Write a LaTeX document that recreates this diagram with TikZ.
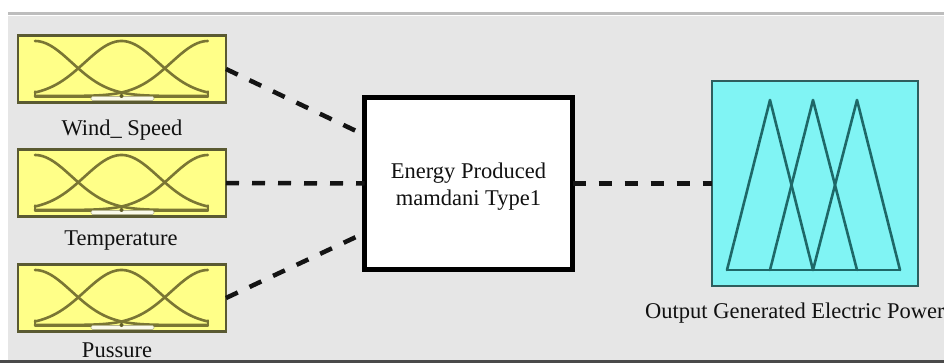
\documentclass[tikz,border=0pt]{standalone}
\usepackage{fontspec}
\setmainfont{Liberation Serif}
\definecolor{panel}{HTML}{E6E6E6}
\definecolor{topline}{HTML}{BDBDBD}
\definecolor{botline}{HTML}{4A4A4A}
\definecolor{yfill}{HTML}{FFFF88}
\definecolor{yborder}{HTML}{5A5A32}
\definecolor{ycurve}{HTML}{7A7634}
\definecolor{barfill}{HTML}{FAFAEA}
\definecolor{cfill}{HTML}{80F4F4}
\definecolor{cborder}{HTML}{2E5E5E}
\definecolor{cline}{HTML}{1E6868}
\definecolor{txt}{HTML}{111111}
\begin{document}
\begin{tikzpicture}[x=1pt,y=-1pt,
  declare function={gs(\t)=exp(-11*(\t)*(\t));},
  ybox/.style={draw=yborder, fill=yfill, line width=2.2pt, minimum width=208pt, minimum height=67pt, inner sep=0pt, outer sep=0pt},
  mfc/.style={draw=ycurve, line width=2.6pt, line join=round, line cap=round},
  fisbox/.style={draw=black, fill=white, line width=5pt, minimum width=208pt, minimum height=172pt, inner sep=0pt, outer sep=0pt},
  cbox/.style={draw=cborder, fill=cfill, line width=2.2pt, minimum width=206pt, minimum height=205pt, inner sep=0pt, outer sep=0pt},
  tri/.style={draw=cline, line width=2.6pt, line join=round, line cap=round},
  conn/.style={draw=black!92, line width=4.5pt, dash pattern=on 13pt off 13pt},
  lbl/.style={font=\fontsize{22.5}{27}\selectfont, text=txt, inner sep=0pt},
]
\useasboundingbox (0,0) rectangle (944,363);
\clip (0,0) rectangle (944,363);
% background panel
\fill[white] (0,0) rectangle (944,363);
\fill[panel] (8,12) rectangle (944,360);
\fill[topline] (8,12) rectangle (944,15);
\fill[white] (8,15) rectangle (944,16.5);
\fill[botline] (0,360) rectangle (944,363);

% input boxes
\node[ybox] (ws) at (122,69) {};
\node[ybox] (tp) at (122,183) {};
\node[ybox] (ps) at (122,298) {};
\foreach \b in {ws,tp,ps}{
  \begin{scope}[shift={(\b.north west)}]
    \draw[mfc] (17,56) -- (17,61.5) -- (190,61.5) -- (190,56);
    \draw[mfc] plot[domain=0:1,samples=70] ({17+173*\x},{60.5-55*gs(\x)});
    \draw[mfc] plot[domain=0:1,samples=70] ({17+173*\x},{60.5-55*gs(\x-0.5)});
    \draw[mfc] plot[domain=0:1,samples=70] ({17+173*\x},{60.5-55*gs(\x-1)});
    \path[fill=barfill, draw=ycurve!55, line width=0.7pt, rounded corners=1.5pt] (73,61) rectangle (136,65);
    \fill[ycurve!80!black] (103.5,60.5) circle[radius=2pt];
  \end{scope}
}
\node[lbl, anchor=base] (wsl) at (122,136) {Wind\_ Speed};
\node[lbl, anchor=base] (tpl) at (121,246) {Temperature};
\node[lbl, anchor=base] (psl) at (117,357) {Pussure};

% FIS box
\node[fisbox] (fis) at (468.5,183.5) {};
\node[lbl, align=center] (fist) at ([yshift=-3pt]fis.center) {Energy Produced\\mamdani Type1};

% output box
\node[cbox] (out) at (815,183.5) {};
\begin{scope}[shift={(out.north west)}]
  \draw[tri] (15,189) -- (58,19) -- (101,189);
  \draw[tri] (58,189) -- (101,19) -- (145,189);
  \draw[tri] (101,189) -- (145,19) -- (188,189);
  \draw[tri] (15,189) -- (188,189);
\end{scope}
\node[lbl, anchor=base west] (outl) at (645,318) {Output Generated Electric Power};

% connectors
\draw[conn] (ws.east) -- ([yshift=48.5pt]fis.west);
\draw[conn] (tp.east) -- (fis.west);
\draw[conn] (ps.east) -- ([yshift=-49.5pt]fis.west);
\draw[conn] (fis.east) -- (out.west);
\end{tikzpicture}
\end{document}
